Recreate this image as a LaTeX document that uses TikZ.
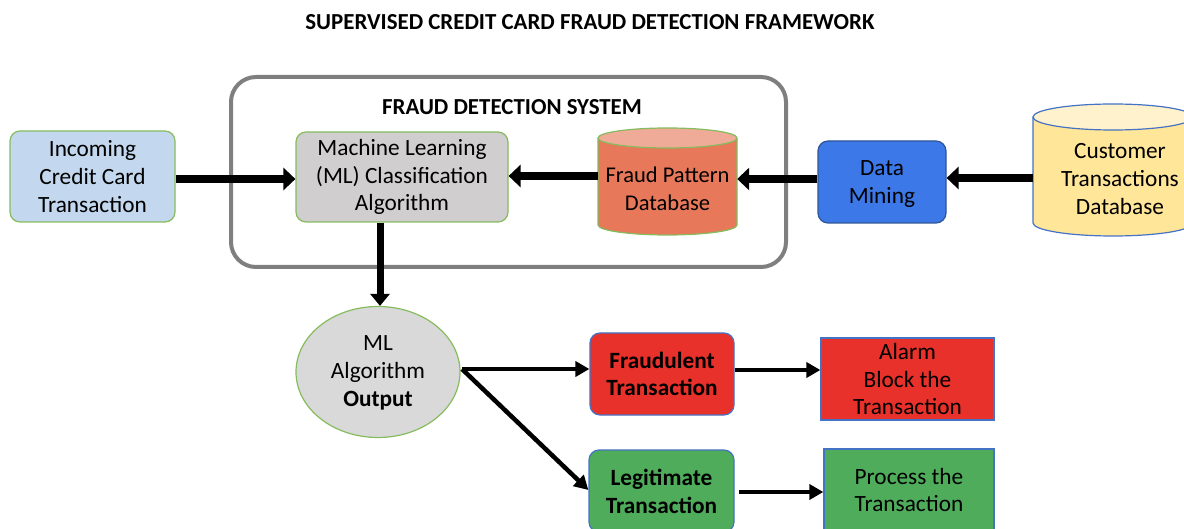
\documentclass[tikz,border=0pt]{standalone}
\usepackage{fontspec}
\setmainfont{Carlito}
\usetikzlibrary{arrows.meta,shapes.geometric,positioning}
\definecolor{inblue}{HTML}{C3D8EE}
\definecolor{grnbd}{HTML}{86BB5E}
\definecolor{mlgray}{HTML}{D0CECE}
\definecolor{dbbody}{HTML}{E8785A}
\definecolor{dbtop}{HTML}{F0AA98}
\definecolor{dmblue}{HTML}{3C78E7}
\definecolor{dmbd}{HTML}{2F5597}
\definecolor{cbody}{HTML}{FFE699}
\definecolor{ctop}{HTML}{FFF2CC}
\definecolor{cbd}{HTML}{4472C4}
\definecolor{outgray}{HTML}{D9D9D9}
\definecolor{fred}{HTML}{E8312A}
\definecolor{lgreen}{HTML}{4EAC5B}
\definecolor{sysgray}{HTML}{7F7F7F}
\tikzset{
  txt/.style={font=\fontsize{23.3}{27.8}\selectfont, align=center, text=black},
  rbox/.style={txt, draw=grnbd, line width=1.2pt, rounded corners=10pt},
  bigarrow/.style={line width=8pt, -{Triangle[length=12pt,width=22pt]}},
  medarrow/.style={line width=4.5pt, -{Triangle[length=14pt,width=15pt]}},
}
\begin{document}
\begin{tikzpicture}[x=1pt,y=-1pt]
\useasboundingbox (0,0) rectangle (1184,529);
% title
\node[font=\fontsize{22.9}{27}\selectfont\bfseries] (title) at (590,22) {SUPERVISED CREDIT CARD FRAUD DETECTION FRAMEWORK};
% system box
\draw[draw=sysgray, line width=4pt, rounded corners=25pt] (231,77) rectangle (786,267);
\node[font=\fontsize{22.9}{27}\selectfont\bfseries] (systitle) at (512,107) {FRAUD DETECTION SYSTEM};
% incoming
\node[rbox, fill=inblue, minimum width=165pt, minimum height=91pt] (inc) at (92.5,176.5) {Incoming\\Credit Card\\Transaction};
% ML
\node[rbox, fill=mlgray, minimum width=212pt, minimum height=90pt] (ml) at (402,177) {Machine Learning\\(ML) Classification\\Algorithm};
% fraud pattern db cylinder
\fill[dbbody] (598,138) -- (598,225) arc[start angle=180,end angle=360,x radius=69.5pt,y radius=10pt] -- (737,138) -- cycle;
\draw[grnbd, line width=1.2pt] (598,138) -- (598,225) arc[start angle=180,end angle=360,x radius=69.5pt,y radius=10pt] -- (737,138);
\draw[grnbd, line width=1.2pt, fill=dbtop] (667.5,138) ellipse[x radius=69.5pt, y radius=10pt];
\node[txt, font=\fontsize{22.5}{27.8}\selectfont, minimum width=139pt, minimum height=60pt] (fdb) at (667.5,189) {Fraud Pattern\\Database};
% data mining
\node[txt, draw=dmbd, line width=1.2pt, rounded corners=10pt, fill=dmblue, minimum width=128pt, minimum height=82pt] (dm) at (882,182) {};
\node[txt] (dmtxt) at ([yshift=-2pt]dm.center) {Data\\Mining};
% customer db cylinder
\fill[cbody] (1033,117) -- (1033,223) arc[start angle=180,end angle=360,x radius=80pt,y radius=13pt] -- (1193,117) -- cycle;
\draw[cbd, line width=1.2pt] (1033,117) -- (1033,223) arc[start angle=180,end angle=360,x radius=80pt,y radius=13pt] -- (1193,117);
\draw[cbd, line width=1.2pt, fill=ctop] (1113,117) ellipse[x radius=80pt, y radius=13pt];
\node[txt, minimum height=80pt] (cdb) at (1120,179) {Customer\\Transactions\\Database};
\coordinate (cdbw) at (1033,178);
% output ellipse
\node[txt, ellipse, draw=grnbd, line width=1.2pt, fill=outgray, minimum width=164pt, minimum height=131pt, inner sep=0pt] (out) at (378,372) {};
\node[txt] (outtxt) at ([yshift=-1pt]out.center) {ML\\Algorithm\\\textbf{Output}};
% fraudulent
\node[txt, font=\fontsize{23.3}{27.8}\selectfont\bfseries, draw=cbd, line width=1.2pt, rounded corners=10pt, fill=fred, minimum width=144pt, minimum height=82pt] (fr) at (662,374) {Fraudulent\\Transaction};
\node[txt, font=\fontsize{23.3}{27.8}\selectfont\bfseries, draw=cbd, line width=1.2pt, rounded corners=10pt, fill=lgreen, minimum width=145pt, minimum height=82pt] (lg) at (661.5,491) {Legitimate\\Transaction};
% alarm / process
\node[txt, draw=cbd, line width=1.2pt, fill=fred, minimum width=173pt, minimum height=82pt] (al) at (907.5,379) {Alarm\\Block the\\Transaction};
\node[txt, draw=cbd, line width=1.2pt, fill=lgreen, minimum width=170pt, minimum height=82pt] (pr) at (909,490) {Process the\\Transaction};
% arrows
\draw[bigarrow] (inc.east |- 0,179) -- (ml.west |- 0,179);
\draw[bigarrow] (fdb.west |- 0,176) -- (ml.east |- 0,176);
\draw[bigarrow] (dm.west |- 0,179) -- (fdb.east |- 0,179);
\draw[bigarrow] (cdbw) -- (dm.east |- cdbw);
\draw[line width=7pt, -{Triangle[length=12pt,width=19pt]}] (ml.south -| 380,0) -- (out.north -| 380,0);
\coordinate (split) at (462,369);
\draw[medarrow] (split) -- (fr.west |- split);
\draw[medarrow] (split) -- (lg.west |- 0,490);
\draw[medarrow] (fr.east |- 0,370) -- (al.west |- 0,370);
\draw[medarrow] ([xshift=4pt]lg.east |- 0,492) -- (pr.west |- 0,492);
\end{tikzpicture}
\end{document}
